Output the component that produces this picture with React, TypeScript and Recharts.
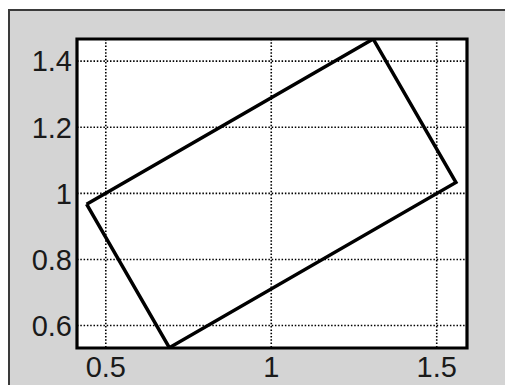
import React from 'react';
import { LineChart, Line, XAxis, YAxis, CartesianGrid, ReferenceArea } from 'recharts';

// corners of the rotated rectangle, closed back to the first one
const cornerX = [0.442, 1.308, 1.558, 0.692, 0.442];
const cornerY = [0.967, 1.467, 1.033, 0.533, 0.967];

const xTicks = [0.5, 1, 1.5];
const yTicks = [0.6, 0.8, 1, 1.2, 1.4];

const xDomain: [number, number] = [0.413, 1.5915];
const yDomain: [number, number] = [0.532, 1.467];

const outline = cornerX.map((x, i) => ({ x, y: cornerY[i] }));

const tickStyle = { fontFamily: '"Liberation Sans", Arial, sans-serif', fontSize: 29, fill: '#1a1a1a' };

export default function App() {
  return (
    <div style={{ position: 'absolute', left: 0, top: 0, width: 505, height: 385, background: '#fff', overflow: 'hidden' }}>
      <div
        style={{
          position: 'absolute',
          left: 8,
          top: 9,
          right: 0,
          bottom: 0,
          background: '#d4d4d4',
          borderTop: '2px solid #3a3a3a',
          borderLeft: '2px solid #3a3a3a',
        }}
      />
      <div style={{ position: 'absolute', left: 0, top: 0 }}>
        <LineChart width={505} height={385} data={outline} margin={{ top: 39, right: 38, bottom: 1, left: 0 }}>
          <CartesianGrid
            fill="#fff"
            stroke="#000"
            strokeWidth={1.6}
            strokeDasharray="1.5 1.8"
          />
          <XAxis
            dataKey="x"
            type="number"
            domain={xDomain}
            ticks={xTicks}
            allowDataOverflow
            height={36}
            axisLine={false}
            tickLine={false}
            tickSize={0}
            tickMargin={8}
            tick={tickStyle}
          />
          <YAxis
            dataKey="y"
            type="number"
            domain={yDomain}
            ticks={yTicks}
            allowDataOverflow
            width={77}
            axisLine={false}
            tickLine={false}
            tickSize={0}
            tickMargin={5}
            tick={tickStyle}
          />
          <ReferenceArea
            x1={xDomain[0]}
            x2={xDomain[1]}
            y1={yDomain[0]}
            y2={yDomain[1]}
            fill="none"
            fillOpacity={0}
            stroke="#000"
            strokeWidth={3.2}
            ifOverflow="visible"
          />
          <Line
            dataKey="y"
            type="linear"
            stroke="#000"
            strokeWidth={3.5}
            dot={false}
            activeDot={false}
            isAnimationActive={false}
          />
        </LineChart>
      </div>
    </div>
  );
}
